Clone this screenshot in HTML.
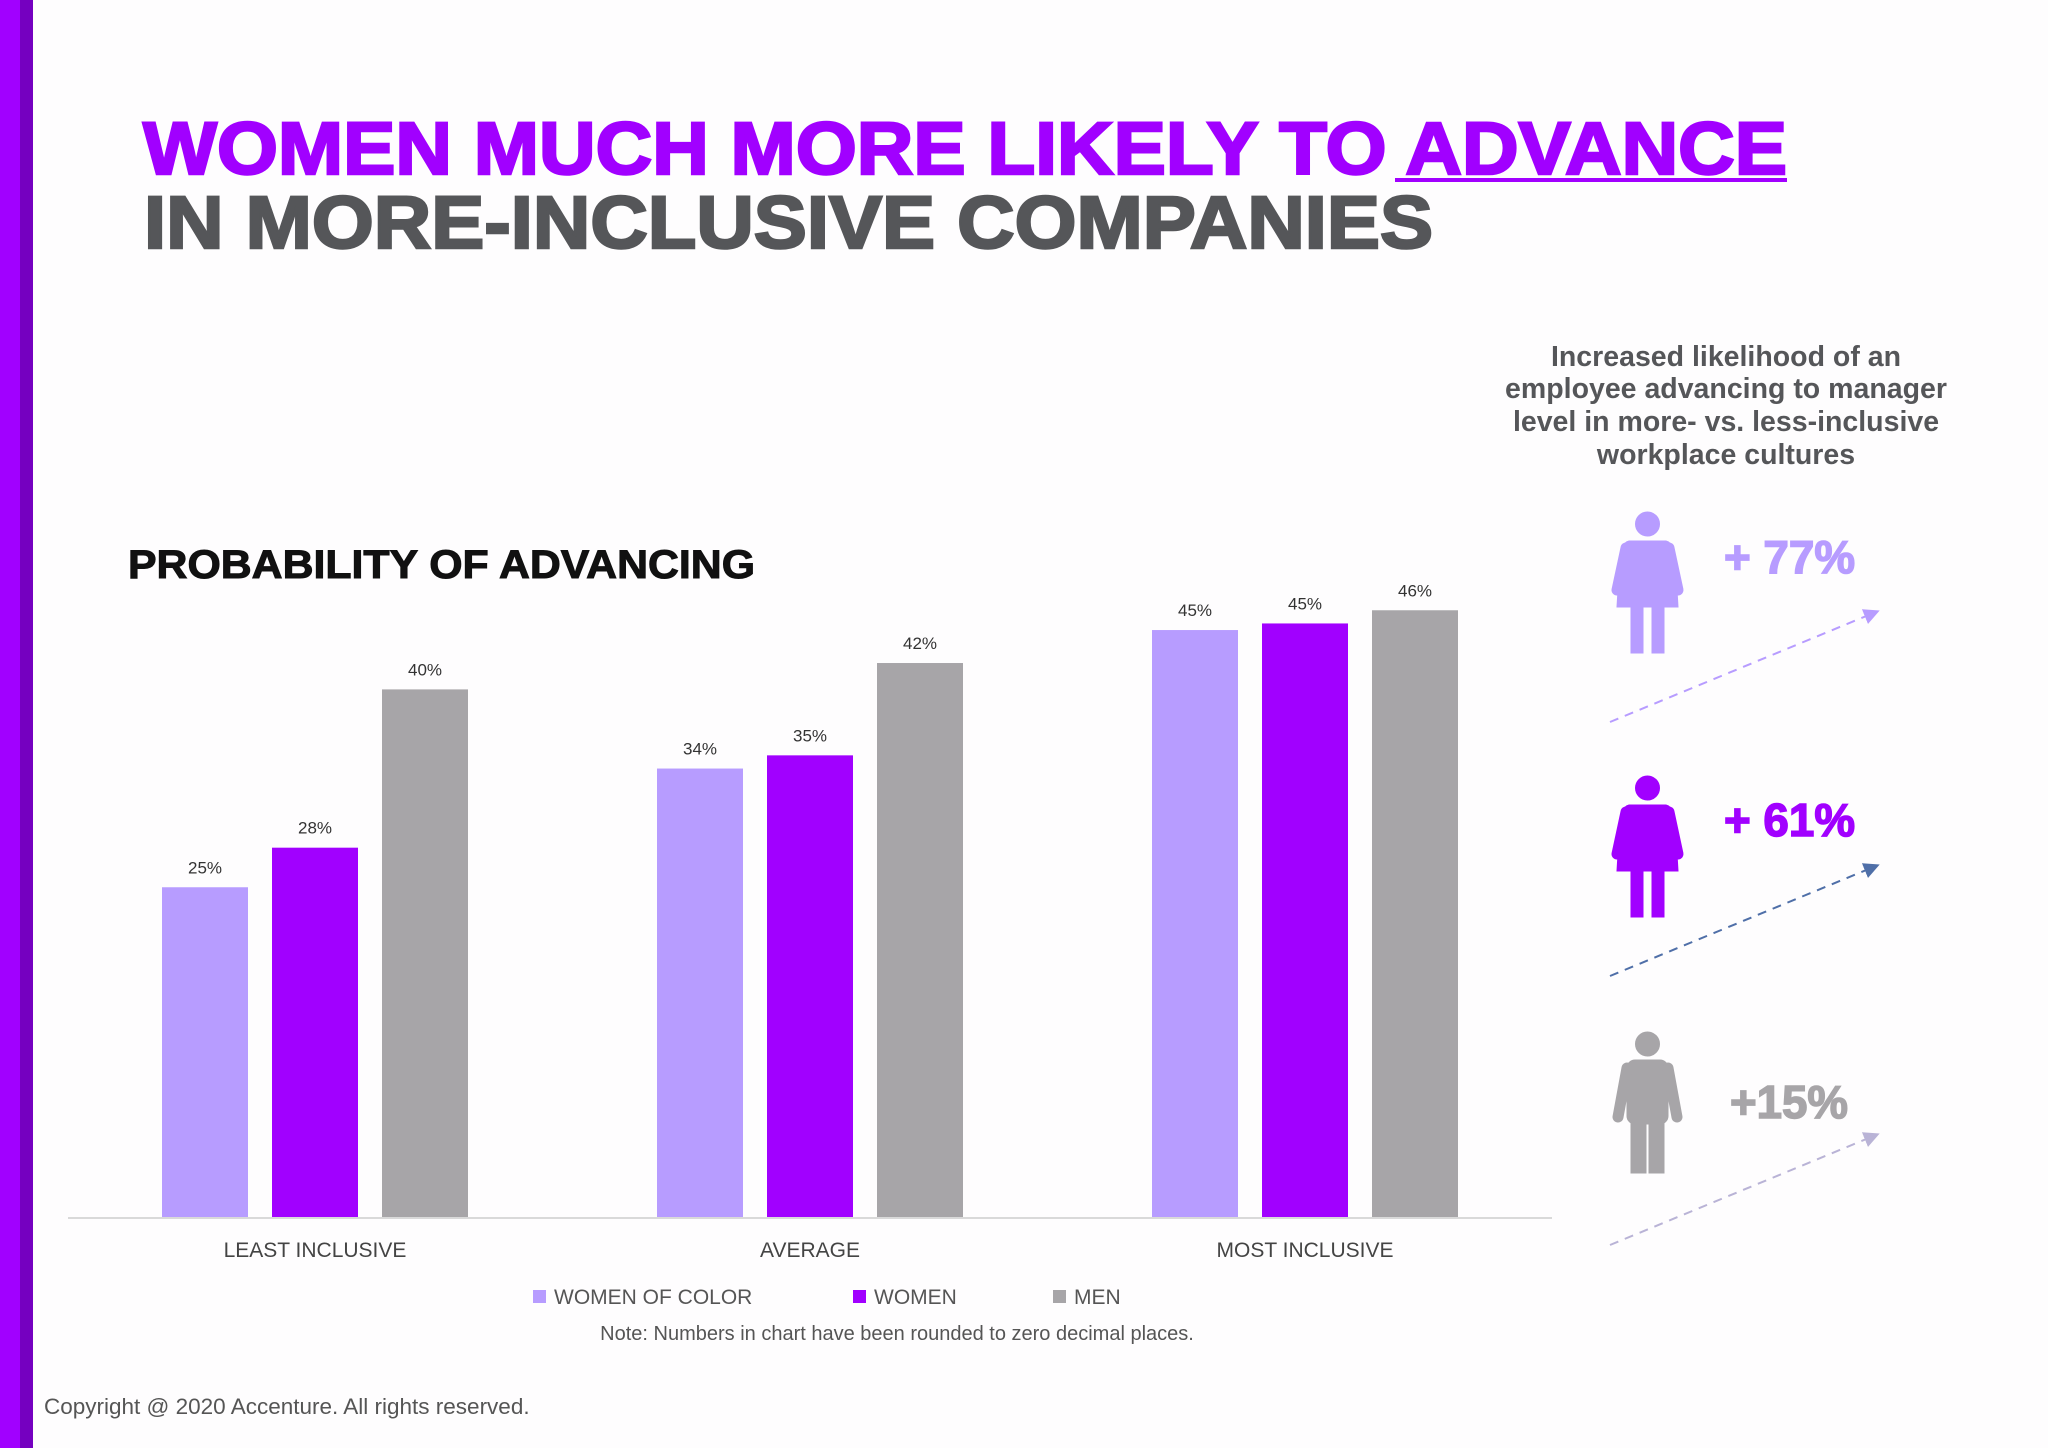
<!DOCTYPE html>
<html><head><meta charset="utf-8"><style>
html,body{margin:0;padding:0;background:#fff}
svg{display:block}
text{font-family:"Liberation Sans",sans-serif}
</style></head><body>
<svg id="chart" width="2048" height="1448" viewBox="0 0 2048 1448" xmlns="http://www.w3.org/2000/svg">
<rect x="0" y="0" width="2048" height="1448" fill="#fefdfe"/>
<rect x="0" y="0" width="20" height="1448" fill="#a100ff"/>
<rect x="20" y="0" width="13" height="1448" fill="#7500c0"/>
<text x="143" y="174" font-size="74" font-weight="bold" fill="#a100ff" stroke="#a100ff" stroke-width="2.5" textLength="1644" lengthAdjust="spacingAndGlyphs">WOMEN MUCH MORE LIKELY TO ADVANCE</text>
<rect x="1395" y="178" width="392" height="4" fill="#a100ff"/>
<text x="144" y="248" font-size="74" font-weight="bold" fill="#555659" stroke="#555659" stroke-width="2.5" textLength="1289" lengthAdjust="spacingAndGlyphs">IN MORE-INCLUSIVE COMPANIES</text>
<text x="128" y="578" font-size="40" font-weight="bold" fill="#111" stroke="#111" stroke-width="1" textLength="627" lengthAdjust="spacingAndGlyphs">PROBABILITY OF ADVANCING</text>
<g id="bars"></g>
<line x1="68" y1="1218" x2="1552" y2="1218" stroke="#d9d9d9" stroke-width="2"/>
<g id="legend" font-size="21" fill="#555"></g>
<text x="897" y="1340" font-size="20" fill="#555" text-anchor="middle">Note: Numbers in chart have been rounded to zero decimal places.</text>
<text x="44" y="1414" font-size="22.5" fill="#555">Copyright @ 2020 Accenture. All rights reserved.</text>
<g font-size="28.5" font-weight="bold" fill="#555659" text-anchor="middle">
<text x="1726" y="366">Increased likelihood of an</text>
<text x="1726" y="398">employee advancing to manager</text>
<text x="1726" y="431">level in more- vs. less-inclusive</text>
<text x="1726" y="464">workplace cultures</text>
</g>
<defs>
<g id="woman">
<circle cx="34.5" cy="12" r="12"/>
<path d="M16 29 L53 29 Q58 30 59 36 L62 44 L65 95 L4 95 L7 44 L10 36 Q11 30 16 29Z"/>
<line x1="13" y1="36" x2="4" y2="78" stroke-width="11" stroke-linecap="round"/>
<line x1="56" y1="36" x2="65" y2="78" stroke-width="11" stroke-linecap="round"/>
<rect x="18" y="93" width="12" height="48"/>
<rect x="39" y="93" width="12" height="48"/>
</g>
<g id="man">
<circle cx="34.5" cy="12" r="12"/>
<rect x="14" y="28" width="41" height="64" rx="8"/>
<line x1="14" y1="36" x2="5" y2="85" stroke-width="11" stroke-linecap="round"/>
<line x1="55" y1="36" x2="64" y2="85" stroke-width="11" stroke-linecap="round"/>
<rect x="18" y="88" width="15" height="53"/>
<rect x="36" y="88" width="15" height="53"/>
</g>
<marker id="ah1" markerWidth="8" markerHeight="8" refX="6" refY="4" orient="auto"><path d="M0 0 L8 4 L0 8Z" fill="#b79cff"/></marker>
<marker id="ah2" markerWidth="8" markerHeight="8" refX="6" refY="4" orient="auto"><path d="M0 0 L8 4 L0 8Z" fill="#4f6fa8"/></marker>
<marker id="ah3" markerWidth="8" markerHeight="8" refX="6" refY="4" orient="auto"><path d="M0 0 L8 4 L0 8Z" fill="#b9b3d6"/></marker>
</defs>
<use href="#woman" x="1613" y="512" fill="#b79cff" stroke="#b79cff"/>
<text x="1724" y="573" font-size="46" font-weight="bold" fill="#b79cff" stroke="#b79cff" stroke-width="1.5" textLength="131" lengthAdjust="spacingAndGlyphs">+ 77%</text>
<line x1="1610" y1="722" x2="1876" y2="612" stroke="#b79cff" stroke-width="2" stroke-dasharray="9,7" marker-end="url(#ah1)"/>
<use href="#woman" x="1613" y="776" fill="#a100ff" stroke="#a100ff"/>
<text x="1724" y="836" font-size="46" font-weight="bold" fill="#a100ff" stroke="#a100ff" stroke-width="1.5" textLength="131" lengthAdjust="spacingAndGlyphs">+ 61%</text>
<line x1="1610" y1="976" x2="1876" y2="866" stroke="#4f6fa8" stroke-width="2" stroke-dasharray="9,7" marker-end="url(#ah2)"/>
<use href="#man" x="1613" y="1032" fill="#a7a5a8" stroke="#a7a5a8"/>
<text x="1730" y="1118" font-size="46" font-weight="bold" fill="#a7a5a8" stroke="#a7a5a8" stroke-width="1.5" textLength="118" lengthAdjust="spacingAndGlyphs">+15%</text>
<line x1="1610" y1="1245" x2="1876" y2="1135" stroke="#b9b3d6" stroke-width="2" stroke-dasharray="9,7" marker-end="url(#ah3)"/>
</svg>
<script>
const categories = ["LEAST INCLUSIVE", "AVERAGE", "MOST INCLUSIVE"];
const seriesNames = ["WOMEN OF COLOR", "WOMEN", "MEN"];
const womenOfColor = [25, 34, 44.5];
const women = [28, 35, 45];
const men = [40, 42, 46];
const womenOfColorLabels = ["25%", "34%", "45%"];
const womenLabels = ["28%", "35%", "45%"];
const menLabels = ["40%", "42%", "46%"];

const NS = "http://www.w3.org/2000/svg";
const colors = ["#b79cff", "#a100ff", "#a7a5a8"];
const baseY = 1217, pxPer = 13.19;
const yScale = v => baseY - v * pxPer;
const groupX = i => 162 + i * 495;
const barW = 86, barStep = 110;
const bars = document.getElementById('bars');
const series = [womenOfColor, women, men];
const labels = [womenOfColorLabels, womenLabels, menLabels];
categories.forEach((c, i) => {
  series.forEach((s, j) => {
    const x = groupX(i) + j * barStep;
    const r = document.createElementNS(NS, 'rect');
    r.setAttribute('x', x); r.setAttribute('y', yScale(s[i]));
    r.setAttribute('width', barW); r.setAttribute('height', baseY - yScale(s[i]));
    r.setAttribute('fill', colors[j]);
    
    
    bars.appendChild(r);
    const t = document.createElementNS(NS, 'text');
    t.setAttribute('x', x + barW / 2); t.setAttribute('y', yScale(s[i]) - 14);
    t.setAttribute('text-anchor', 'middle'); t.setAttribute('font-size', '17'); t.setAttribute('fill', '#333');
    t.textContent = labels[j][i];
    
    
    bars.appendChild(t);
  });
  const ct = document.createElementNS(NS, 'text');
  ct.setAttribute('x', groupX(i) + barStep + barW / 2); ct.setAttribute('y', 1257);
  ct.setAttribute('text-anchor', 'middle'); ct.setAttribute('font-size', '21'); ct.setAttribute('fill', '#444');
  ct.textContent = c;
  
  
  bars.appendChild(ct);
});
const legend = document.getElementById('legend');
const legX = [533, 853, 1053];
seriesNames.forEach((n, j) => {
  const sq = document.createElementNS(NS, 'rect');
  sq.setAttribute('x', legX[j]); sq.setAttribute('y', 1290); sq.setAttribute('width', 13); sq.setAttribute('height', 13);
  sq.setAttribute('fill', colors[j]);
  
  
  legend.appendChild(sq);
  const t = document.createElementNS(NS, 'text');
  t.setAttribute('x', legX[j] + 21); t.setAttribute('y', 1304);
  t.textContent = n;
  
  
  legend.appendChild(t);
});
</script>
</body></html>
